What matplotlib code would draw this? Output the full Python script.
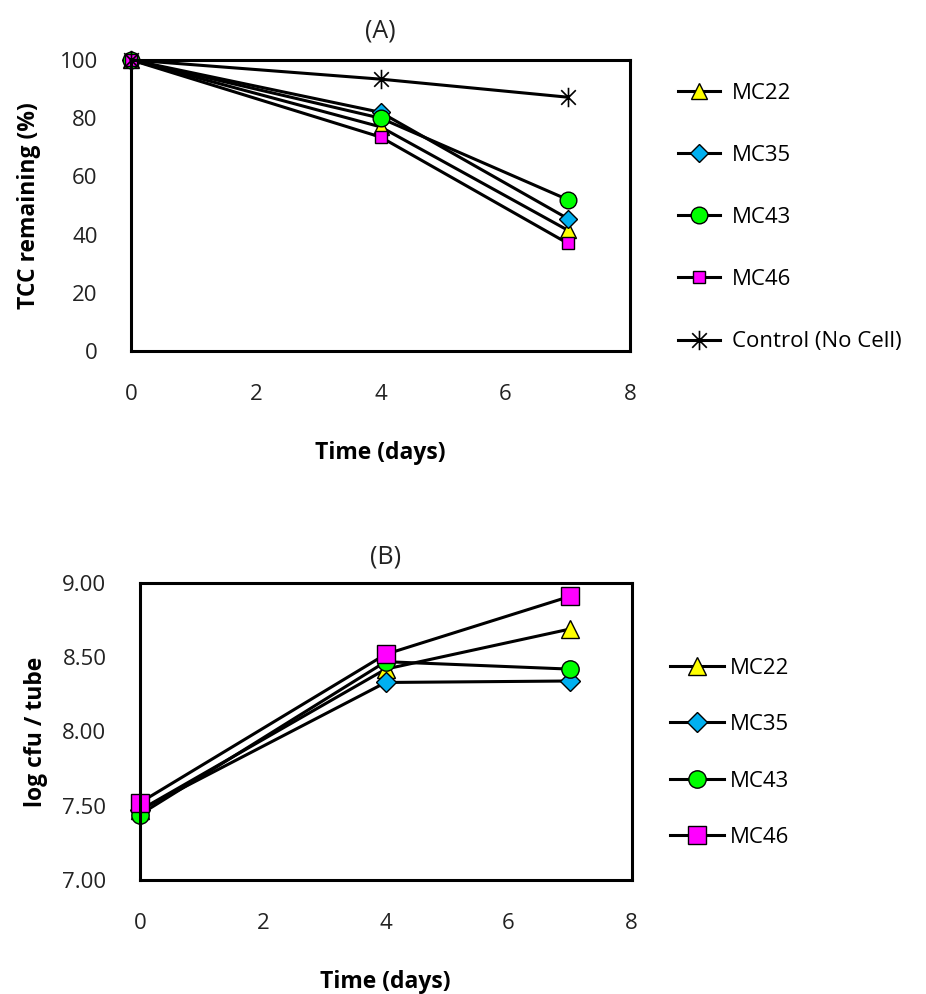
import matplotlib.pyplot as plt
from matplotlib.path import Path
from matplotlib.ticker import FormatStrFormatter

plt.rcParams['font.family'] = ['Open Sans', 'DejaVu Sans']

# data
days = [0, 4, 7]
strains = ['MC22', 'MC35', 'MC43', 'MC46']

tcc_mc22 = [100, 77, 41.5]
tcc_mc35 = [100, 82, 45.5]
tcc_mc43 = [100, 80, 52]
tcc_mc46 = [100, 73.5, 37]
tcc_control = [100, 93.4, 87.2]

cfu_mc22 = [7.47, 8.42, 8.69]
cfu_mc35 = [7.47, 8.33, 8.34]
cfu_mc43 = [7.44, 8.47, 8.42]
cfu_mc46 = [7.52, 8.52, 8.91]

styles = {
    'MC22': dict(marker='^', mfc='#FFFF00'),
    'MC35': dict(marker='D', mfc='#00B0F0'),
    'MC43': dict(marker='o', mfc='#00FF00'),
    'MC46': dict(marker='s', mfc='#FF00FF'),
}

# asterisk marker: X plus a vertical bar
star = Path([(0, -1), (0, 1), (-0.75, -0.75), (0.75, 0.75), (-0.75, 0.75), (0.75, -0.75)],
            [Path.MOVETO, Path.LINETO, Path.MOVETO, Path.LINETO, Path.MOVETO, Path.LINETO])


def setup(ax, ylim, yticks, ypad, xpad):
    ax.set_xlim(0, 8)
    ax.set_ylim(*ylim)
    ax.set_xticks([0, 2, 4, 6, 8])
    ax.set_yticks(yticks)
    ax.tick_params(axis='y', length=0, pad=ypad, labelsize=16, labelcolor='#222222')
    ax.tick_params(axis='x', length=0, pad=xpad, labelsize=16, labelcolor='#222222')
    for s in ax.spines.values():
        s.set_linewidth(2.2)


fig = plt.figure(figsize=(9.26, 9.94), dpi=100)

# (A) TCC remaining
ax1 = fig.add_axes([0.1415, 0.6469, 0.539, 0.2928])
tcc = [tcc_mc22, tcc_mc35, tcc_mc43, tcc_mc46]
sizes_a = {'MC22': 12, 'MC35': 9.5, 'MC43': 12, 'MC46': 8.5}
for name, vals in zip(strains, tcc):
    ax1.plot(days, vals, color='black', lw=2.2, mec='black', mew=1.0,
             ms=sizes_a[name], label=name, clip_on=False, **styles[name])
ax1.plot(days, tcc_control, color='black', lw=2.2, marker=star, ms=14,
         mec='black', mfc='none', mew=1.2, label='Control (No Cell)', clip_on=False)
setup(ax1, (0, 100), [0, 20, 40, 60, 80, 100], 24, 24)
ax1.set_title('(A)', fontsize=18, pad=16, color='#222222')
ax1.set_xlabel('Time (days)', fontsize=16.5, fontweight='bold', labelpad=26)
ax1.set_ylabel('TCC remaining (%)', fontsize=16.5, fontweight='bold', labelpad=13)
ax1.legend(loc='upper left', bbox_to_anchor=(1.055, 0.99), frameon=False,
           fontsize=16, labelspacing=1.85, handlelength=1.9, handletextpad=0.55)

# (B) cell counts
ax2 = fig.add_axes([0.151, 0.1147, 0.531, 0.2988])
cfu = [cfu_mc22, cfu_mc35, cfu_mc43, cfu_mc46]
sizes_b = {'MC22': 13, 'MC35': 10.5, 'MC43': 12.5, 'MC46': 13}
for name, vals in zip(strains, cfu):
    ax2.plot(days, vals, color='black', lw=2.2, mec='black', mew=1.0,
             ms=sizes_b[name], label=name, clip_on=False, **styles[name])
setup(ax2, (7, 9), [7.0, 7.5, 8.0, 8.5, 9.0], 24, 24)
ax2.yaxis.set_major_formatter(FormatStrFormatter('%.2f'))
ax2.set_title('(B)', fontsize=18, pad=14, color='#222222')
ax2.set_xlabel('Time (days)', fontsize=16.5, fontweight='bold', labelpad=26)
ax2.set_ylabel('log cfu / tube', fontsize=16.5, fontweight='bold', labelpad=10)
ax2.legend(loc='upper left', bbox_to_anchor=(1.038, 0.815), frameon=False,
           fontsize=16, labelspacing=1.59, handlelength=2.4, handletextpad=0.3)

fig.savefig('out.png', dpi=100)
